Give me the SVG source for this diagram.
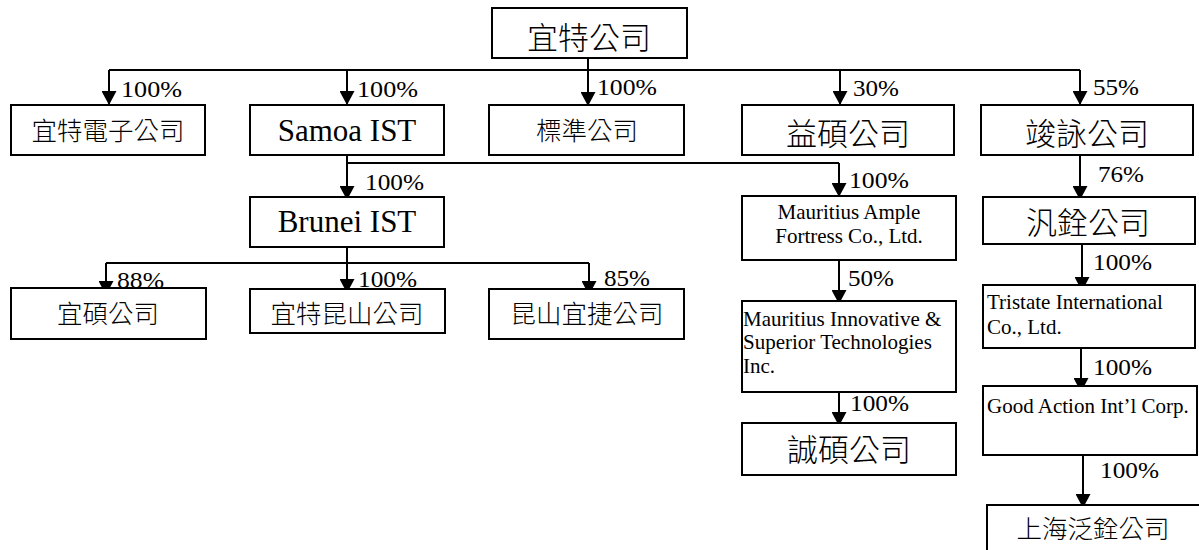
<svg xmlns="http://www.w3.org/2000/svg" width="1199" height="550" viewBox="0 0 1199 550">
<style>
.box{fill:#fff;stroke:#000;stroke-width:2}
.ln{fill:none;stroke:#000;stroke-width:2}
.cj{font-family:"Liberation Serif","Noto Sans CJK TC",serif;font-weight:300;fill:#000}
.c31{font-size:31px;text-anchor:middle}
.c26{font-size:25.5px;text-anchor:middle}
.lt{font-family:"Liberation Serif",serif;fill:#000}
.l31{font-size:31px;text-anchor:middle}
.l21{font-size:21px}
.pct{font-family:"Liberation Serif",serif;font-size:23px;fill:#000}
</style>
<defs>
<marker id="ah" viewBox="0 0 14 15" refX="14" refY="7.5" markerWidth="14" markerHeight="15" orient="auto" markerUnits="userSpaceOnUse">
<path d="M0,0 L14,7.5 L0,15 z" fill="#000"/>
</marker>
</defs>
<g id="connectors">
<line class="ln" x1="109" y1="70" x2="1080" y2="70"/>
<line class="ln" x1="588" y1="58" x2="588" y2="106" marker-end="url(#ah)"/>
<line class="ln" x1="109" y1="70" x2="109" y2="105" marker-end="url(#ah)"/>
<line class="ln" x1="347" y1="70" x2="347" y2="105" marker-end="url(#ah)"/>
<line class="ln" x1="840" y1="70" x2="840" y2="105" marker-end="url(#ah)"/>
<line class="ln" x1="1080" y1="70" x2="1080" y2="105" marker-end="url(#ah)"/>
<line class="ln" x1="347" y1="155" x2="347" y2="200" marker-end="url(#ah)"/>
<line class="ln" x1="347" y1="163" x2="839" y2="163"/>
<line class="ln" x1="839" y1="163" x2="839" y2="197" marker-end="url(#ah)"/>
<line class="ln" x1="347" y1="238" x2="347" y2="293" marker-end="url(#ah)"/>
<line class="ln" x1="106" y1="263" x2="589" y2="263"/>
<line class="ln" x1="106" y1="263" x2="106" y2="295" marker-end="url(#ah)"/>
<line class="ln" x1="589" y1="263" x2="589" y2="295" marker-end="url(#ah)"/>
<line class="ln" x1="1080" y1="152" x2="1080" y2="200" marker-end="url(#ah)"/>
<line class="ln" x1="1082" y1="244" x2="1082" y2="291" marker-end="url(#ah)"/>
<line class="ln" x1="839" y1="254" x2="839" y2="304" marker-end="url(#ah)"/>
<line class="ln" x1="839" y1="377" x2="839" y2="426" marker-end="url(#ah)"/>
<line class="ln" x1="1081" y1="342" x2="1081" y2="392" marker-end="url(#ah)"/>
<line class="ln" x1="1083" y1="447" x2="1083" y2="508" marker-end="url(#ah)"/>
<text class="pct" x="121" y="97" textLength="61" lengthAdjust="spacingAndGlyphs">100%</text>
<text class="pct" x="357" y="97" textLength="61" lengthAdjust="spacingAndGlyphs">100%</text>
<text class="pct" x="597" y="95" textLength="60" lengthAdjust="spacingAndGlyphs">100%</text>
<text class="pct" x="853" y="96" textLength="46" lengthAdjust="spacingAndGlyphs">30%</text>
<text class="pct" x="1093" y="95" textLength="46" lengthAdjust="spacingAndGlyphs">55%</text>
<text class="pct" x="365" y="190" textLength="59" lengthAdjust="spacingAndGlyphs">100%</text>
<text class="pct" x="849" y="188" textLength="60" lengthAdjust="spacingAndGlyphs">100%</text>
<text class="pct" x="1098" y="182" textLength="46" lengthAdjust="spacingAndGlyphs">76%</text>
<text class="pct" x="117" y="288" textLength="47" lengthAdjust="spacingAndGlyphs">88%</text>
<text class="pct" x="358" y="287" textLength="59" lengthAdjust="spacingAndGlyphs">100%</text>
<text class="pct" x="604" y="286" textLength="46" lengthAdjust="spacingAndGlyphs">85%</text>
<text class="pct" x="848" y="286" textLength="46" lengthAdjust="spacingAndGlyphs">50%</text>
<text class="pct" x="1093" y="270" textLength="59" lengthAdjust="spacingAndGlyphs">100%</text>
<text class="pct" x="850" y="411" textLength="59" lengthAdjust="spacingAndGlyphs">100%</text>
<text class="pct" x="1093" y="375" textLength="59" lengthAdjust="spacingAndGlyphs">100%</text>
<text class="pct" x="1100" y="478" textLength="59" lengthAdjust="spacingAndGlyphs">100%</text>
</g>
<g id="n-yite"><rect class="box" x="492" y="8" width="195" height="50"/><text class="cj c31" x="589" y="49">宜特公司</text></g>
<g id="n-yite-elec"><rect class="box" x="11" y="105" width="194" height="50"/><text class="cj c26" x="108" y="140">宜特電子公司</text></g>
<g id="n-samoa"><rect class="box" x="250" y="105" width="194" height="50"/><text class="lt l31" x="347" y="141">Samoa IST</text></g>
<g id="n-biaozhun"><rect class="box" x="489" y="105" width="195" height="50"/><text class="cj c26" x="587" y="140">標準公司</text></g>
<g id="n-yishuo"><rect class="box" x="742" y="105" width="212" height="50"/><text class="cj c31" x="848" y="145">益碩公司</text></g>
<g id="n-junyong"><rect class="box" x="981" y="105" width="212" height="50"/><text class="cj c31" x="1087" y="145">竣詠公司</text></g>
<g id="n-brunei"><rect class="box" x="250" y="197" width="194" height="50"/><text class="lt l31" x="347" y="232">Brunei IST</text></g>
<g id="n-mauritius-ample"><rect class="box" x="742" y="196" width="214" height="64"/><text class="lt l21" x="849" y="219" text-anchor="middle">Mauritius Ample</text><text class="lt l21" x="849" y="243" text-anchor="middle">Fortress Co., Ltd.</text></g>
<g id="n-fanquan"><rect class="box" x="983" y="197" width="212" height="47"/><text class="cj c31" x="1088" y="234">汎銓公司</text></g>
<g id="n-yishuo2"><rect class="box" x="11" y="288" width="195" height="51"/><text class="cj c26" x="108" y="323">宜碩公司</text></g>
<g id="n-yite-kunshan"><rect class="box" x="250" y="289" width="195" height="44"/><text class="cj c26" x="347" y="323">宜特昆山公司</text></g>
<g id="n-kunshan-yijie"><rect class="box" x="489" y="289" width="195" height="50"/><text class="cj c26" x="587" y="323">昆山宜捷公司</text></g>
<g id="n-tristate"><rect class="box" x="983" y="285" width="212" height="63"/><text class="lt l21" x="987" y="309">Tristate International</text><text class="lt l21" x="987" y="334">Co., Ltd.</text></g>
<g id="n-mauritius-innov"><rect class="box" x="742" y="301" width="214" height="91"/><text class="lt l21" x="743" y="326">Mauritius Innovative &amp;</text><text class="lt l21" x="743" y="349">Superior Technologies</text><text class="lt l21" x="743" y="373">Inc.</text></g>
<g id="n-good-action"><rect class="box" x="983" y="386" width="214" height="69"/><text class="lt l21" x="987" y="413">Good Action Int’l Corp.</text></g>
<g id="n-chengshuo"><rect class="box" x="742" y="423" width="214" height="52"/><text class="cj c31" x="849" y="461">誠碩公司</text></g>
<g id="n-shanghai"><rect class="box" x="987" y="505" width="220" height="60"/><text class="cj c26" x="1093" y="538">上海泛銓公司</text></g>
</svg>
